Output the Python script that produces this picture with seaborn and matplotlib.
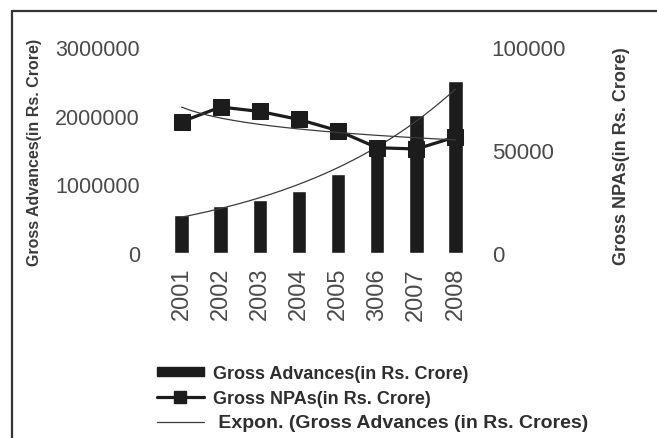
import numpy as np
import pandas as pd
import matplotlib
matplotlib.use("Agg")
import matplotlib.pyplot as plt
from matplotlib.lines import Line2D
from matplotlib.patches import Patch
import seaborn as sns

# Banking data, year by year
years = ["2001", "2002", "2003", "2004", "2005", "3006", "2007", "2008"]
gross_advances = [558766, 680958, 778043, 902026, 1152682, 1551378, 2012510, 2507885]
gross_npas = [63741, 70861, 68717, 64812, 59373, 51097, 50486, 56309]

left_ticks = [0, 1000000, 2000000, 3000000]
right_ticks = [0, 50000, 100000]

legend_labels = [
    "Gross Advances(in Rs. Crore)",
    "Gross NPAs(in Rs. Crore)",
    " Expon. (Gross Advances (in Rs. Crores)",
]

sns.set_theme(style="white")
plt.rcParams["font.family"] = ["Liberation Sans", "DejaVu Sans"]

INK = "#1c1c1c"
TICK = "#4a4a4a"
LABEL = "#3a3a3a"

df = pd.DataFrame({
    "year": years,
    "pos": np.arange(len(years)),
    "advances": gross_advances,
    "npas": gross_npas,
})

W, H = 657, 439
fig = plt.figure(figsize=(W / 100, H / 100), dpi=100)
fig.patch.set_facecolor("white")

ax = fig.add_axes([162 / W, 1 - 254 / H, 313 / W, 206 / H])
sns.barplot(data=df, x="year", y="advances", order=years, color=INK,
            saturation=1, width=0.37, ax=ax)
ax.set_ylim(0, 3000000)
ax.set_xlim(-0.5, len(years) - 0.5)

# Exponential trend of advances
pos = df["pos"].to_numpy(dtype=float)
coef = np.polyfit(pos, np.log(df["advances"].to_numpy(dtype=float)), 1)
xs = np.linspace(0, len(years) - 1, 200)
ax.plot(xs, np.exp(np.polyval(coef, xs)), color="#3c3c3c", lw=0.9, zorder=4)

ax2 = ax.twinx()
sns.lineplot(data=df, x="pos", y="npas", ax=ax2, color=INK, lw=2.3,
             marker="s", markersize=11, markeredgecolor=INK,
             markerfacecolor=INK, legend=False, zorder=3)
# Logarithmic trend of NPAs
lcoef = np.polyfit(np.log(pos + 1), df["npas"].to_numpy(dtype=float), 1)
ax2.plot(xs, np.polyval(lcoef, np.log(xs + 1)), color="#3c3c3c", lw=0.9, zorder=4)
ax2.set_ylim(0, 100000)
ax2.set_xlim(-0.5, len(years) - 0.5)

ax.set_yticks(left_ticks)
ax.set_yticklabels([str(v) for v in left_ticks])
ax2.set_yticks(right_ticks)
ax2.set_yticklabels([str(v) for v in right_ticks])
ax.set_xticks(range(len(years)))
ax.set_xticklabels(years, rotation=90)

for a in (ax, ax2):
    for s in a.spines.values():
        s.set_visible(False)
    a.set_xlabel("")
    a.set_ylabel("")
    a.grid(False)
    a.set_facecolor("none")

ax.tick_params(axis="y", length=0, pad=16, labelsize=15.5, labelcolor=TICK)
ax.tick_params(axis="x", length=0, pad=10, labelsize=17, labelcolor=TICK)
ax2.tick_params(axis="y", length=0, pad=12, labelsize=16, labelcolor=TICK)

fig.text(35 / W, 1 - 152 / H, "Gross Advances(in Rs. Crore)", rotation=90,
         ha="center", va="center", fontsize=11.5, fontweight="bold", color=LABEL)
fig.text(622 / W, 1 - 156 / H, "Gross NPAs(in Rs. Crore)", rotation=90,
         ha="center", va="center", fontsize=13, fontweight="bold", color=LABEL)

handles = [
    Patch(facecolor=INK, edgecolor=INK),
    Line2D([], [], color=INK, lw=2.3, marker="s", markersize=8),
    Line2D([], [], color="#3c3c3c", lw=0.9),
]
leg = fig.legend(handles, legend_labels, loc="upper left",
                 bbox_to_anchor=(157 / W, 1 - 366 / H), frameon=False,
                 borderpad=0, borderaxespad=0, handlelength=2.6, handleheight=0.45,
                 handletextpad=0.5, labelspacing=0.42,
                 prop={"size": 13, "weight": "bold"}, labelcolor="#2e2e2e")
leg.get_texts()[2].set_fontsize(14)

# Outer frame (top and left edges)
fig.add_artist(Line2D([12 / W, 1], [1 - 12 / H, 1 - 12 / H],
                      transform=fig.transFigure, color="#333333", lw=1.6))
fig.add_artist(Line2D([12 / W, 12 / W], [0, 1 - 12 / H],
                      transform=fig.transFigure, color="#333333", lw=1.6))

fig.savefig("out.png", dpi=100, facecolor="white")
